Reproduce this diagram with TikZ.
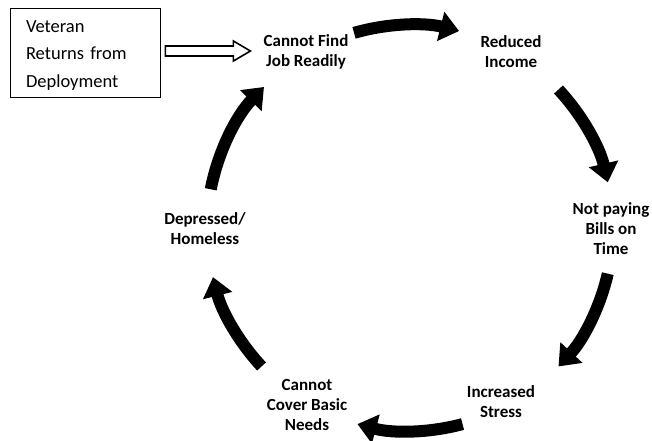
\documentclass[tikz,border=0pt]{standalone}
\usepackage{fontspec}
\setmainfont{Carlito}
\usetikzlibrary{arrows.meta,calc}
\begin{document}
\begin{tikzpicture}[x=1pt,y=1pt,
  lbl/.style={font=\bfseries\fontsize{17}{20}\selectfont, align=center, inner sep=0pt},
  cyc/.style={line width=12pt, -{Triangle[length=19pt,width=29pt]}},
  hollow/.style={line width=1.6pt, line join=miter},
]
\path[use as bounding box] (0,0) rectangle (652,440);
\coordinate (C) at (410,212);
% labels
\node[lbl] (find) at (306,388) {Cannot Find\\Job Readily};
\node[lbl] (income) at (511,388) {Reduced\\Income};
\node[lbl] (bills) at (611,211) {Not paying\\Bills on\\Time};
\node[lbl] (stress) at (501,38) {Increased\\Stress};
\node[lbl] (needs) at (307,35) {Cannot\\Cover Basic\\Needs};
\node[lbl] (homeless) at (205,211) {Depressed/\\Homeless};
% box
\node[draw, line width=0.8pt, minimum width=150pt, minimum height=89pt, inner sep=0pt] (box) at (85,387.5) {};
\node[text width=118pt, inner xsep=16pt, align=left, font=\fontsize{18.5}{27.5}\selectfont]
  (boxtext) at ($(box.center)+(0,-3)$) {Veteran\\Returns from\\Deployment};
% hollow arrow
\draw[hollow] ($(box.east)+(5,6.5)$) -- ++(68,0) -- ++(0,5) -- ++(17,-10) -- ++(-17,-10)
  -- ++(0,5) -- ++(-68,0) -- cycle;
% cycle arrows
\draw[cyc] ($(C)+(106:203)$) arc[start angle=106, end angle=76, radius=203];
\draw[cyc] ($(C)+(43:203)$) arc[start angle=43, end angle=13, radius=203];
\draw[cyc] ($(C)+(-13:203)$) arc[start angle=-13, end angle=-43, radius=203];
\draw[cyc] ($(C)+(-75:203)$) arc[start angle=-75, end angle=-105, radius=203];
\draw[cyc] ($(C)+(-137:203)$) arc[start angle=-137, end angle=-166, radius=203];
\draw[cyc] ($(C)+(169:203)$) arc[start angle=169, end angle=136, radius=203];
\end{tikzpicture}
\end{document}
